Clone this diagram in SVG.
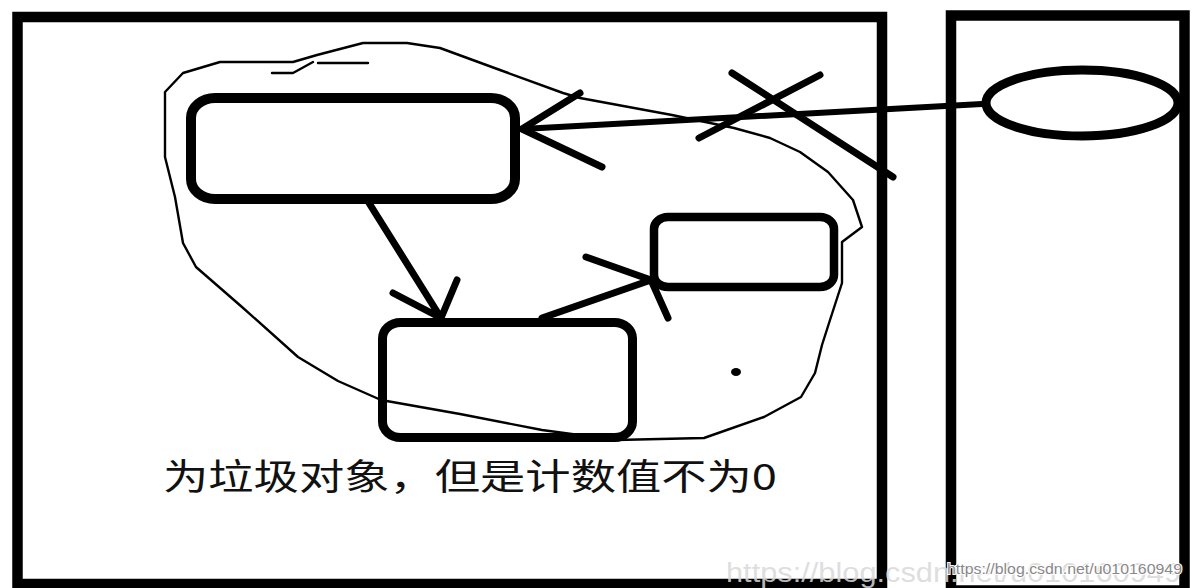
<svg xmlns="http://www.w3.org/2000/svg" width="1192" height="588" viewBox="0 0 1192 588">
<style>
.frame{fill:none;stroke:#000;stroke-width:10.5}
.box{fill:none;stroke:#000}
.thin{fill:none;stroke:#000;stroke-width:2.4;stroke-linejoin:round;stroke-linecap:round}
.con{fill:none;stroke:#000;stroke-linecap:round;stroke-linejoin:round}
.lbl{font-family:"Noto Sans CJK SC","Noto Sans",sans-serif;font-size:36px;fill:#111}
.wm{font-family:"Liberation Sans",Arial,sans-serif}
</style>
<rect width="1192" height="588" fill="#fff"/>
<g id="heap-frame"><rect class="frame" x="17.5" y="17" width="864.5" height="567"/></g>
<g id="stack-frame"><rect class="frame" x="951" y="15.5" width="233.5" height="575"/></g>
<g id="cloud">
<path class="thin" d="M183,73 L220,62 L293,62 L317,55 L363,43 L407,43 L440,48 L500,70 L563,93 L580,98 L672,115 L734,128 L770,138 L800,152 L828,172 L853,200 L862,227 L842,242 L842,283 L830,320 L822,345 L815,373 L801,397 L764,417 L704,438 L616,440 L542,430 L460,414 L381,400 L338,381 L298,357 L242,307 L196,267 L183,243 L175,197 L165,157 L165,92 Z"/>
<path class="thin" d="M272,73 L293,73 L313,62 M318,63 L368,63"/>
</g>
<g id="node-a"><rect class="box" stroke-width="10" x="191" y="98" width="324" height="101" rx="24" ry="20"/></g>
<g id="node-b"><rect class="box" stroke-width="8.5" x="654" y="217" width="180" height="70" rx="14" ry="12"/></g>
<g id="node-c"><rect class="box" stroke-width="9" x="382.5" y="322.5" width="250" height="115" rx="18" ry="16"/></g>
<g id="node-ref"><ellipse cx="1082" cy="103" rx="96" ry="33" fill="none" stroke="#000" stroke-width="9"/></g>
<g id="dot"><ellipse cx="736" cy="372" rx="5" ry="4" fill="#000"/></g>
<g id="connectors">
<path class="con" stroke-width="6" d="M982,104 L522,129"/>
<path class="con" stroke-width="7" d="M580,93 L522,129 L602,167"/>
<path class="con" stroke-width="7" d="M732,73 L893,177 M820,75 L699,138"/>
<path class="con" stroke-width="7" d="M369,203 L441,318 M393,293 L441,318 L457,280"/>
<path class="con" stroke-width="7" d="M542,318 L651,280 M586,257 L651,280 L668,318"/>
</g>
<g id="label"><text class="lbl" x="163" y="490" textLength="614" lengthAdjust="spacingAndGlyphs">为垃圾对象，但是计数值不为0</text></g>
<g id="watermark">
<text class="wm" x="726" y="582" font-size="27" fill="#d8d8d8" fill-opacity="0.85" textLength="455" lengthAdjust="spacingAndGlyphs">https://blog.csdn.net/u010160949</text>
<text class="wm" x="947" y="574" font-size="15" fill="#888" stroke="#fff" stroke-width="2" paint-order="stroke" textLength="235" lengthAdjust="spacingAndGlyphs">https://blog.csdn.net/u010160949</text>
</g>
</svg>
